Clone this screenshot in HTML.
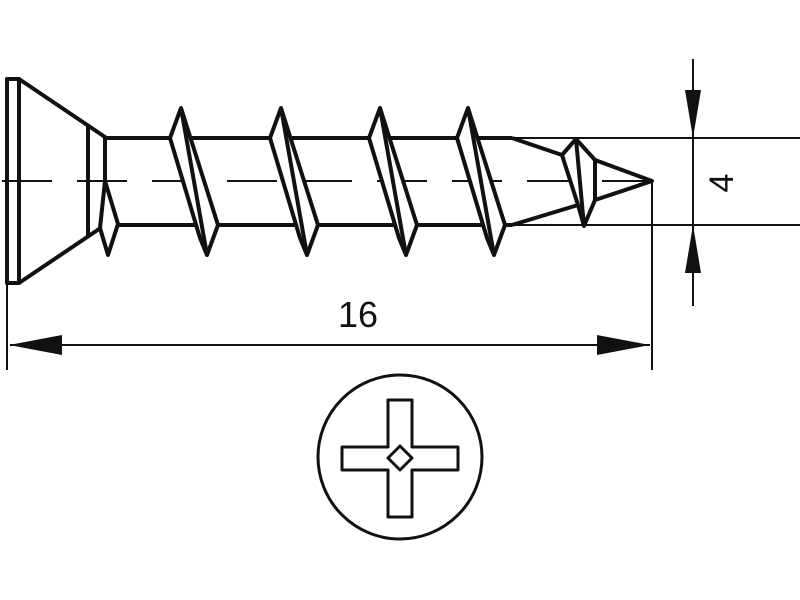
<!DOCTYPE html>
<html><head><meta charset="utf-8"><style>html,body{margin:0;padding:0;background:#fff}svg{display:block}</style></head>
<body>
<svg width="800" height="600" viewBox="0 0 800 600" xmlns="http://www.w3.org/2000/svg">
<g fill="none" stroke="#111" stroke-linejoin="round">
<!-- centerline -->
<line x1="0" y1="181" x2="650" y2="181" stroke-width="2" stroke-dasharray="50,25" stroke-dashoffset="-2"/>
<!-- head -->
<rect x="7" y="79" width="12" height="204" stroke-width="4"/>
<polyline points="19,79 105,137 105,225 19,283" stroke-width="4"/>
<line x1="88" y1="126" x2="88" y2="236" stroke-width="4"/>
<!-- shank -->
<line x1="105" y1="138" x2="512" y2="138" stroke-width="4"/>
<line x1="105" y1="225" x2="512" y2="225" stroke-width="4"/>
<!-- partial thread -->
<polygon points="105,181 118,224 108,255 100,228" fill="#fff" stroke-width="4"/>
<!-- threads -->
<g stroke-width="4" fill="#fff">
<polygon points="181,108 170,138 200,238 207,255 218,225"/><line x1="181" y1="108" x2="207" y2="255"/>
<polygon points="281,108 270,138 300,238 307,255 318,225"/><line x1="281" y1="108" x2="307" y2="255"/>
<polygon points="380,108 369,138 399,238 406,255 417,225"/><line x1="380" y1="108" x2="406" y2="255"/>
<polygon points="468,108 457,138 487,238 494,255 505,225"/><line x1="468" y1="108" x2="494" y2="255"/>
</g>
<!-- taper and tip -->
<polyline points="512,138 562,155" stroke-width="4"/>
<polyline points="512,225 578,205" stroke-width="4"/>
<polygon points="576,139 562,155 578,205 584,226 595,200 595,160" fill="#fff" stroke-width="4"/>
<line x1="576" y1="139" x2="584" y2="226" stroke-width="4"/>
<polyline points="595,160 652,181 595,200" stroke-width="4"/>
<!-- dimension lines -->
<line x1="512" y1="138" x2="800" y2="138" stroke-width="2"/>
<line x1="512" y1="225" x2="800" y2="225" stroke-width="2"/>
<line x1="693" y1="59" x2="693" y2="306" stroke-width="2"/>
<line x1="7" y1="283" x2="7" y2="370" stroke-width="2"/>
<line x1="652" y1="181" x2="652" y2="370" stroke-width="2"/>
<line x1="10" y1="345" x2="650" y2="345" stroke-width="2"/>
<!-- screw head view -->
<circle cx="400" cy="457" r="82" stroke-width="3"/>
<polygon points="388,400 412,400 412,447 458,447 458,470 412,470 412,517 388,517 388,470 342,470 342,447 388,447" stroke-width="3"/>
<polygon points="400,446 412,458 400,470 388,458" stroke-width="3"/>
</g>
<g fill="#111">
<polygon points="693,138 685,90 701,90"/>
<polygon points="693,225 685,273 701,273"/>
<polygon points="9,345 62,335 62,355"/>
<polygon points="650,345 597,335 597,355"/>
</g>
<text x="358" y="327" font-family="Liberation Sans, sans-serif" font-size="36" text-anchor="middle" fill="#111">16</text>
<text x="0" y="0" font-family="Liberation Sans, sans-serif" font-size="34" text-anchor="middle" fill="#111" transform="translate(733,183) rotate(-90)">4</text>
</svg>
</body></html>
